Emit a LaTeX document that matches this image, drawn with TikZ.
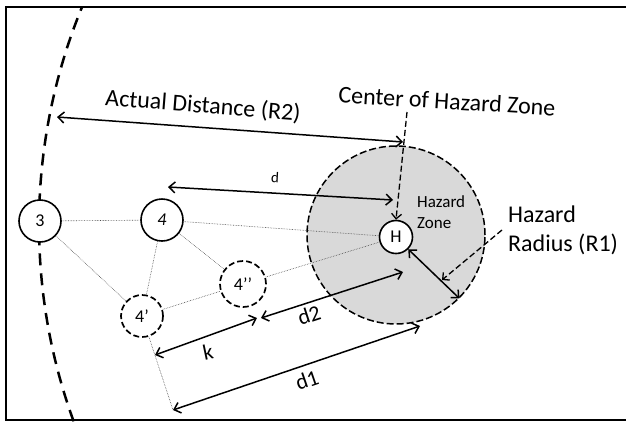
\documentclass[tikz,border=0pt]{standalone}
\usepackage{fontspec}
\setmainfont{Carlito}
\usetikzlibrary{arrows.meta}

\begin{document}
\begin{tikzpicture}[x=1pt, y=-1pt,
    nodo/.style={circle, draw, line width=1.6pt, fill=white, minimum size=42pt, inner sep=0pt, font=\fontsize{18}{21}\selectfont},
    posible/.style={nodo, line width=1.7pt, dash pattern=on 6pt off 3pt},
    zona/.style={circle, draw, fill=gray!30, line width=1.5pt, dash pattern=on 7pt off 3pt, minimum size=178pt, inner sep=0pt},
    enlace/.style={gray!60!black, line width=0.6pt, densely dotted},
    flecha/.style={line width=1.5pt, {Straight Barb[length=6pt,width=11pt]}-{Straight Barb[length=6pt,width=11pt]}},
    puntero/.style={line width=1.3pt, dash pattern=on 6pt off 3pt, -{Straight Barb[length=5pt,width=10pt]}},
    grande/.style={font=\fontsize{24}{29}\selectfont},
    medida/.style={font=\fontsize{22}{26}\selectfont}]

    \useasboundingbox (0,0) rectangle (626,421);

    % Marco
    \draw[line width=1.5pt] (626,7) -- (6,7) -- (6,420) -- (626,420);

    % Zona de peligro
    \node[zona] (zona) at (396,235) {};

    % Distancia real (arco)
    \draw[line width=2.5pt, dash pattern=on 12pt off 8pt] plot[domain=160:202.3, samples=80] ({613+574*cos(\x)}, {225+574*sin(\x)});

    % Nodos
    \node[nodo] (n3) at (40,221) {3};
    \node[nodo] (n4) at (162,220) {\itshape 4};
    \node[posible] (n4p) at (142,316) {4’};
    \node[posible, minimum size=46pt] (n4pp) at (243,284) {4’’};
    \node[nodo, minimum size=33pt] (H) at (396,237) {H};
    \coordinate (pie) at (173,410);

    % Enlaces
    \draw[enlace] (n3) -- (n4);
    \draw[enlace] (n3) -- (n4p);
    \draw[enlace] (n4) -- (n4p);
    \draw[enlace] (n4) -- (n4pp);
    \draw[enlace] (n4) -- (H);
    \draw[enlace] (n4p) -- (n4pp);
    \draw[enlace] (n4pp) -- (H);
    \draw[enlace] (n4p) -- (pie);

    % Flechas de distancia
    \coordinate (r2izq) at (57,117);
    \coordinate (r2der) at (403,142);
    \draw[flecha] (r2izq) -- (r2der);
    \coordinate (dizq) at (168,187);
    \coordinate (dder) at (393,200);
    \draw[flecha] (dizq) -- (dder);
    \coordinate (kizq) at (155,355);
    \coordinate (kder) at (257,318);
    \draw[flecha] (kizq) -- (kder);
    \coordinate (d2izq) at (261,318);
    \coordinate (d2der) at (403,272);
    \draw[flecha] (d2izq) -- (d2der);
    \coordinate (d1der) at (420,326);
    \draw[flecha] (pie) -- (d1der);
    \draw[flecha] (H.-45) -- (zona.-45);

    % Punteros
    \coordinate (centro) at (407,112);
    \draw[puntero] (centro) -- (H.north);
    \coordinate (radio) at (502,230);
    \coordinate (radiofin) at (442,280);
    \draw[puntero] (radio) -- (radiofin);

    % Textos
    \node[grande, rotate=-4.5] (tr2) at (203,106) {Actual Distance (R2)};
    \node[grande, rotate=-3.5] (tcentro) at (447,101) {Center of Hazard Zone};
    \node[font=\fontsize{15}{18}\selectfont, rotate=-3] (td) at (275,178) {d};
    \node[font=\fontsize{17}{21}\selectfont, align=left, anchor=west, inner sep=0pt] (tzona) at (417,212) {Hazard\\Zone};
    \node[grande, align=left, anchor=west, inner sep=0pt] (tradio) at (508,230) {Hazard\\Radius (R1)};
    \node[medida, rotate=12] (tk) at (208,352) {k};
    \node[medida, rotate=18] (td2) at (309,315) {d2};
    \node[medida, rotate=19] (td1) at (307,380) {d1};

\end{tikzpicture}
\end{document}
